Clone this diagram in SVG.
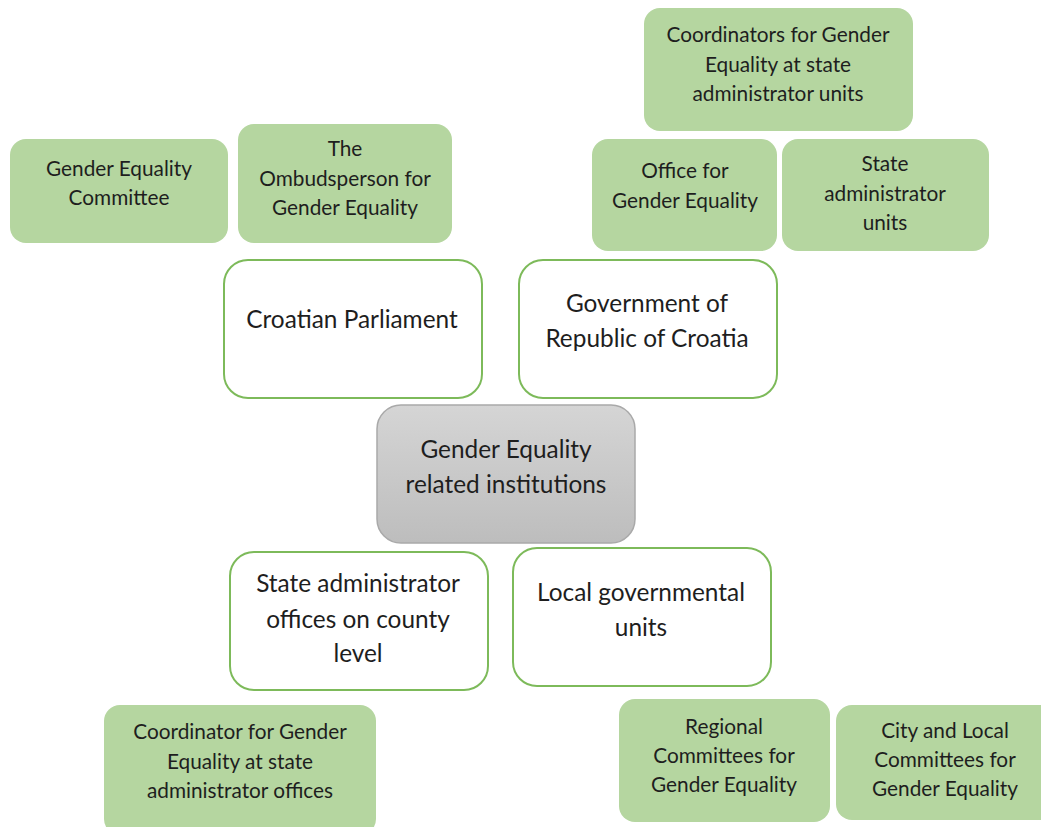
<svg xmlns="http://www.w3.org/2000/svg" width="1041" height="827" viewBox="0 0 1041 827">
  <defs>
    <linearGradient id="grayFill" x1="0" y1="0" x2="0" y2="1">
      <stop offset="0" stop-color="#d5d5d5"/>
      <stop offset="1" stop-color="#bdbdbd"/>
    </linearGradient>
  </defs>
  <style>
    .sub { fill: #b5d6a0; }
    .main { fill: #ffffff; stroke: #7dba5a; stroke-width: 2; }
    .core { fill: url(#grayFill); stroke: #a9a9a9; stroke-width: 1.5; }
    .t-sub { font-family: Lato, "Liberation Sans", sans-serif; font-size: 20.8px; fill: #1e1e1e; text-anchor: middle; }
    .t-main { font-family: Lato, "Liberation Sans", sans-serif; font-size: 24.4px; fill: #1e1e1e; text-anchor: middle; }
  </style>
  <rect width="1041" height="827" fill="#ffffff"/>

  <!-- Parliament-related bodies -->
  <g id="gender-equality-committee">
    <rect class="sub" x="10" y="139" width="218" height="104" rx="16"/>
    <text class="t-sub" x="119" y="176">Gender Equality</text>
    <text class="t-sub" x="119" y="205">Committee</text>
  </g>
  <g id="ombudsperson">
    <rect class="sub" x="238" y="124" width="214" height="119" rx="16"/>
    <text class="t-sub" x="345" y="156">The</text>
    <text class="t-sub" x="345" y="186">Ombudsperson for</text>
    <text class="t-sub" x="345" y="215">Gender Equality</text>
  </g>

  <!-- Government-related bodies -->
  <g id="coordinators-state-units">
    <rect class="sub" x="644" y="8" width="269" height="123" rx="16"/>
    <text class="t-sub" x="778" y="42">Coordinators for Gender</text>
    <text class="t-sub" x="778" y="72">Equality at state</text>
    <text class="t-sub" x="778" y="101">administrator units</text>
  </g>
  <g id="office-for-gender-equality">
    <rect class="sub" x="592" y="139" width="185" height="112" rx="16"/>
    <text class="t-sub" x="685" y="178">Office for</text>
    <text class="t-sub" x="685" y="208">Gender Equality</text>
  </g>
  <g id="state-administrator-units">
    <rect class="sub" x="782" y="139" width="207" height="112" rx="16"/>
    <text class="t-sub" x="885" y="171">State</text>
    <text class="t-sub" x="885" y="201">administrator</text>
    <text class="t-sub" x="885" y="230">units</text>
  </g>

  <!-- Main institutions -->
  <g id="croatian-parliament">
    <rect class="main" x="224" y="260" width="258" height="138" rx="24"/>
    <text class="t-main" x="352" y="328">Croatian Parliament</text>
  </g>
  <g id="government">
    <rect class="main" x="519" y="260" width="258" height="138" rx="24"/>
    <text class="t-main" x="647" y="312">Government of</text>
    <text class="t-main" x="647" y="347">Republic of Croatia</text>
  </g>
  <g id="gender-equality-institutions">
    <rect class="core" x="377" y="405" width="258" height="138" rx="24"/>
    <text class="t-main" x="506" y="458">Gender Equality</text>
    <text class="t-main" x="506" y="493">related institutions</text>
  </g>
  <g id="state-administrator-offices">
    <rect class="main" x="230" y="552" width="258" height="138" rx="24"/>
    <text class="t-main" x="358" y="592">State administrator</text>
    <text class="t-main" x="358" y="628">offices on county</text>
    <text class="t-main" x="358" y="662">level</text>
  </g>
  <g id="local-governmental-units">
    <rect class="main" x="513" y="548" width="258" height="138" rx="24"/>
    <text class="t-main" x="641" y="601">Local governmental</text>
    <text class="t-main" x="641" y="636">units</text>
  </g>

  <!-- Lower-level bodies -->
  <g id="coordinator-state-offices">
    <rect class="sub" x="104" y="705" width="272" height="130" rx="16"/>
    <text class="t-sub" x="240" y="739">Coordinator for Gender</text>
    <text class="t-sub" x="240" y="769">Equality at state</text>
    <text class="t-sub" x="240" y="798">administrator offices</text>
  </g>
  <g id="regional-committees">
    <rect class="sub" x="619" y="699" width="211" height="123" rx="16"/>
    <text class="t-sub" x="724" y="734">Regional</text>
    <text class="t-sub" x="724" y="763">Committees for</text>
    <text class="t-sub" x="724" y="792">Gender Equality</text>
  </g>
  <g id="city-local-committees">
    <rect class="sub" x="836" y="705" width="220" height="115" rx="16"/>
    <text class="t-sub" x="945" y="738">City and Local</text>
    <text class="t-sub" x="945" y="767">Committees for</text>
    <text class="t-sub" x="945" y="796">Gender Equality</text>
  </g>
</svg>
